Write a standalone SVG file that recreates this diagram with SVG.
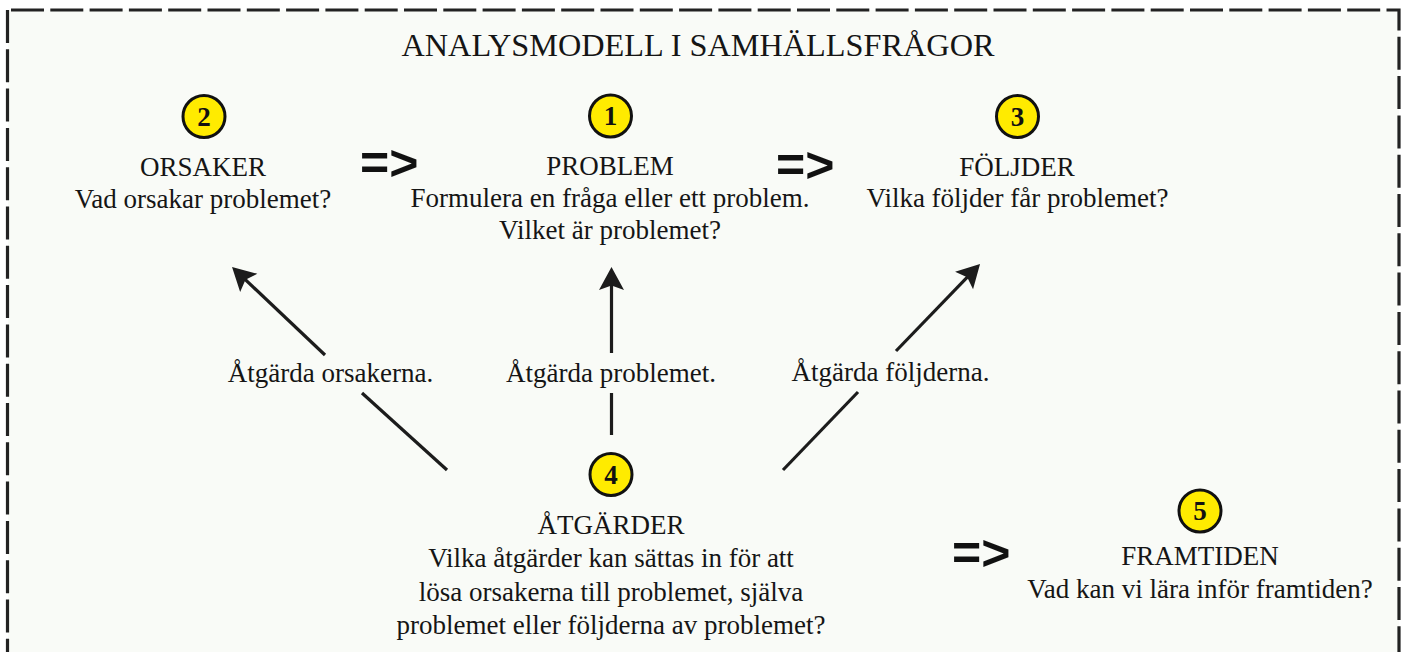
<svg xmlns="http://www.w3.org/2000/svg" width="1408" height="652" viewBox="0 0 1408 652">
  <style>
    .t { font-family: "Liberation Serif", "Times New Roman", serif; fill: #151515; text-anchor: middle; }
    .h { font-size: 27px; }
    .b { font-size: 27px; }
    .title { font-size: 32.3px; }
    .num { font-family: "Liberation Serif", serif; font-weight: bold; font-size: 27px; fill: #111; text-anchor: middle; }
    .badge { fill: #ffeb00; stroke: #111; stroke-width: 3; }
    .imp { font-family: "Liberation Sans", Arial, sans-serif; font-weight: bold; font-size: 50px; fill: #111; }
    .conn { stroke: #1c1c1c; stroke-width: 3.2; fill: none; }
    .border { stroke: #222; stroke-width: 3.2; fill: none; stroke-dasharray: 33 6.3; }
  </style>
  <defs>
    <marker id="ah" markerUnits="userSpaceOnUse" markerWidth="30" markerHeight="30" viewBox="-15 -15 30 30" refX="0" refY="0" orient="auto">
      <path d="M10,0 L-13,-12.5 L-8.5,0 L-13,12.5 Z" fill="#1c1c1c"/>
    </marker>
  </defs>

  <rect x="0" y="0" width="1408" height="652" fill="#ffffff"/>
  <rect x="8" y="10" width="1391" height="650" fill="#f9fbf7"/>
  <g id="frame">
    <path class="border" d="M11,10 H1399 V700"/>
    <path class="border" d="M7.5,10 V700"/>
  </g>

  <g id="title">
    <text class="t title" x="698" y="56">ANALYSMODELL I SAMHÄLLSFRÅGOR</text>
  </g>

  <g id="node-orsaker">
    <circle class="badge" cx="204" cy="116.5" r="21"/>
    <text class="num" x="204" y="125.5">2</text>
    <text class="t h" x="203" y="176">ORSAKER</text>
    <text class="t b" x="203" y="208">Vad orsakar problemet?</text>
  </g>

  <g id="node-problem">
    <circle class="badge" cx="610.5" cy="116" r="21"/>
    <text class="num" x="610.5" y="125">1</text>
    <text class="t h" x="610" y="175">PROBLEM</text>
    <text class="t b" x="610" y="207">Formulera en fråga eller ett problem.</text>
    <text class="t b" x="610" y="239">Vilket är problemet?</text>
  </g>

  <g id="node-foljder">
    <circle class="badge" cx="1017.5" cy="116.5" r="21"/>
    <text class="num" x="1017.5" y="125.5">3</text>
    <text class="t h" x="1017" y="176">FÖLJDER</text>
    <text class="t b" x="1017.5" y="207">Vilka följder får problemet?</text>
  </g>

  <g id="node-atgarder">
    <circle class="badge" cx="611" cy="474.5" r="21"/>
    <text class="num" x="611" y="483.5">4</text>
    <text class="t h" x="611" y="534">ÅTGÄRDER</text>
    <text class="t b" x="611" y="567">Vilka åtgärder kan sättas in för att</text>
    <text class="t b" x="611" y="601">lösa orsakerna till problemet, själva</text>
    <text class="t b" x="611" y="634">problemet eller följderna av problemet?</text>
  </g>

  <g id="node-framtiden">
    <circle class="badge" cx="1200" cy="511" r="21"/>
    <text class="num" x="1200" y="520">5</text>
    <text class="t h" x="1200" y="565">FRAMTIDEN</text>
    <text class="t b" x="1200" y="598">Vad kan vi lära inför framtiden?</text>
  </g>

  <g id="connectors">
    <text class="imp" x="360" y="180">=&gt;</text>
    <text class="imp" x="776" y="182">=&gt;</text>
    <text class="imp" x="952" y="570">=&gt;</text>

    <line class="conn" x1="447" y1="470" x2="362" y2="393"/>
    <line class="conn" x1="325" y1="355" x2="239.3" y2="273.9" marker-end="url(#ah)"/>
    <text class="t b" x="330.5" y="382">Åtgärda orsakerna.</text>

    <line class="conn" x1="611.5" y1="435" x2="611.5" y2="393"/>
    <line class="conn" x1="611.5" y1="353" x2="611.5" y2="277" marker-end="url(#ah)"/>
    <text class="t b" x="611" y="382">Åtgärda problemet.</text>

    <line class="conn" x1="783" y1="470" x2="858" y2="392"/>
    <line class="conn" x1="896" y1="351" x2="973.1" y2="271.2" marker-end="url(#ah)"/>
    <text class="t b" x="890.5" y="381">Åtgärda följderna.</text>
  </g>
</svg>
